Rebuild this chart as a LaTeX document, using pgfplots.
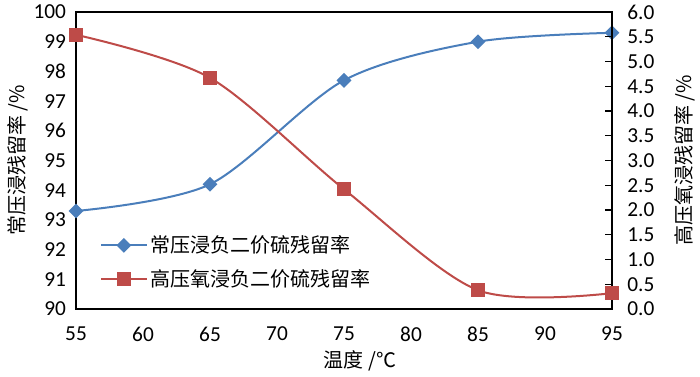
\documentclass[border=0pt]{standalone}
\usepackage{pgfplots}
\pgfplotsset{compat=1.18}
\usepackage{fontspec}
\setmainfont{Carlito}
\newfontfamily\cjk{Noto Sans CJK SC}
\definecolor{xblue}{HTML}{4A7EBB}
\definecolor{xred}{HTML}{BE4B48}
\begin{document}
\begin{tikzpicture}
\pgfplotsset{
  every axis/.append style={
    scale only axis, width=402pt, height=222.75pt,
    at={(0,0)}, anchor=south west,
    xmin=55, xmax=95, xtick={55,60,...,95},
    /pgf/number format/assume math mode=true,
    tick label style={font=\fontsize{16}{18}\selectfont},
    label style={font=\cjk\fontsize{15}{18}\selectfont},
  },
}
\begin{axis}[
  ymin=90, ymax=100, ytick={90,91,...,100},
  axis line style={line width=1pt, black},
  major tick length=0pt,
  ytick pos=left, xtick pos=bottom,
  yticklabel style={xshift=-4pt},
  xticklabel style={yshift=-10pt},
  xlabel={温度 /℃},
  ylabel={常压浸残留率 /\%},
  xlabel style={at={(axis description cs:0.53,-0.175)}, anchor=center},
  ylabel style={at={(axis description cs:-0.108,0.5)}, anchor=center},
  legend style={draw=none, fill=none, at={(rel axis cs:0.037,0.265)}, anchor=north west,
    font=\cjk\fontsize{15}{18}\selectfont, row sep=7pt, cells={anchor=west}},
  legend image code/.code={
    \draw[#1,mark=none] (0cm,0cm) -- (1.2cm,0cm);
    \draw[#1,only marks] plot coordinates {(0.6cm,0cm)};
  },
]
\addplot[xblue, line width=1.5pt, smooth, mark=square*, mark size=3.2pt,
  mark options={rotate=45, solid, fill=xblue}]
  coordinates {(55,93.3) (65,94.2) (75,97.7) (85,99.0) (95,99.3)};
\addlegendentry{常压浸负二价硫残留率}
\addlegendimage{xred, line width=1.5pt, mark=square*, mark size=4.3pt, mark options={solid, fill=xred}}
\addlegendentry{高压氧浸负二价硫残留率}
\end{axis}
\begin{axis}[
  ymin=0, ymax=6, ytick={0,0.5,...,6},
  axis x line=none,
  axis y line*=right,
  axis line style={line width=1pt, black},
  y axis line style={-},
  tick align=inside,
  major tick length=5pt,
  major tick style={line width=0.8pt, black},
  yticklabel style={xshift=8pt, /pgf/number format/.cd, fixed, fixed zerofill, precision=1},
  ylabel={高压氧浸残留率 /\%},
  ylabel style={at={(axis description cs:1.135,0.5)}, anchor=center, rotate=0},
]
\addplot[xred, line width=1.5pt, smooth, mark=square*, mark size=4.3pt,
  mark options={solid, fill=xred}]
  coordinates {(55,5.54) (65,4.67) (75,2.42) (85,0.38) (95,0.32)};
\end{axis}
\pgfresetboundingbox
\path[use as bounding box] (-57pt,-50.25pt) rectangle (468pt,231.75pt);
\end{tikzpicture}
\end{document}
